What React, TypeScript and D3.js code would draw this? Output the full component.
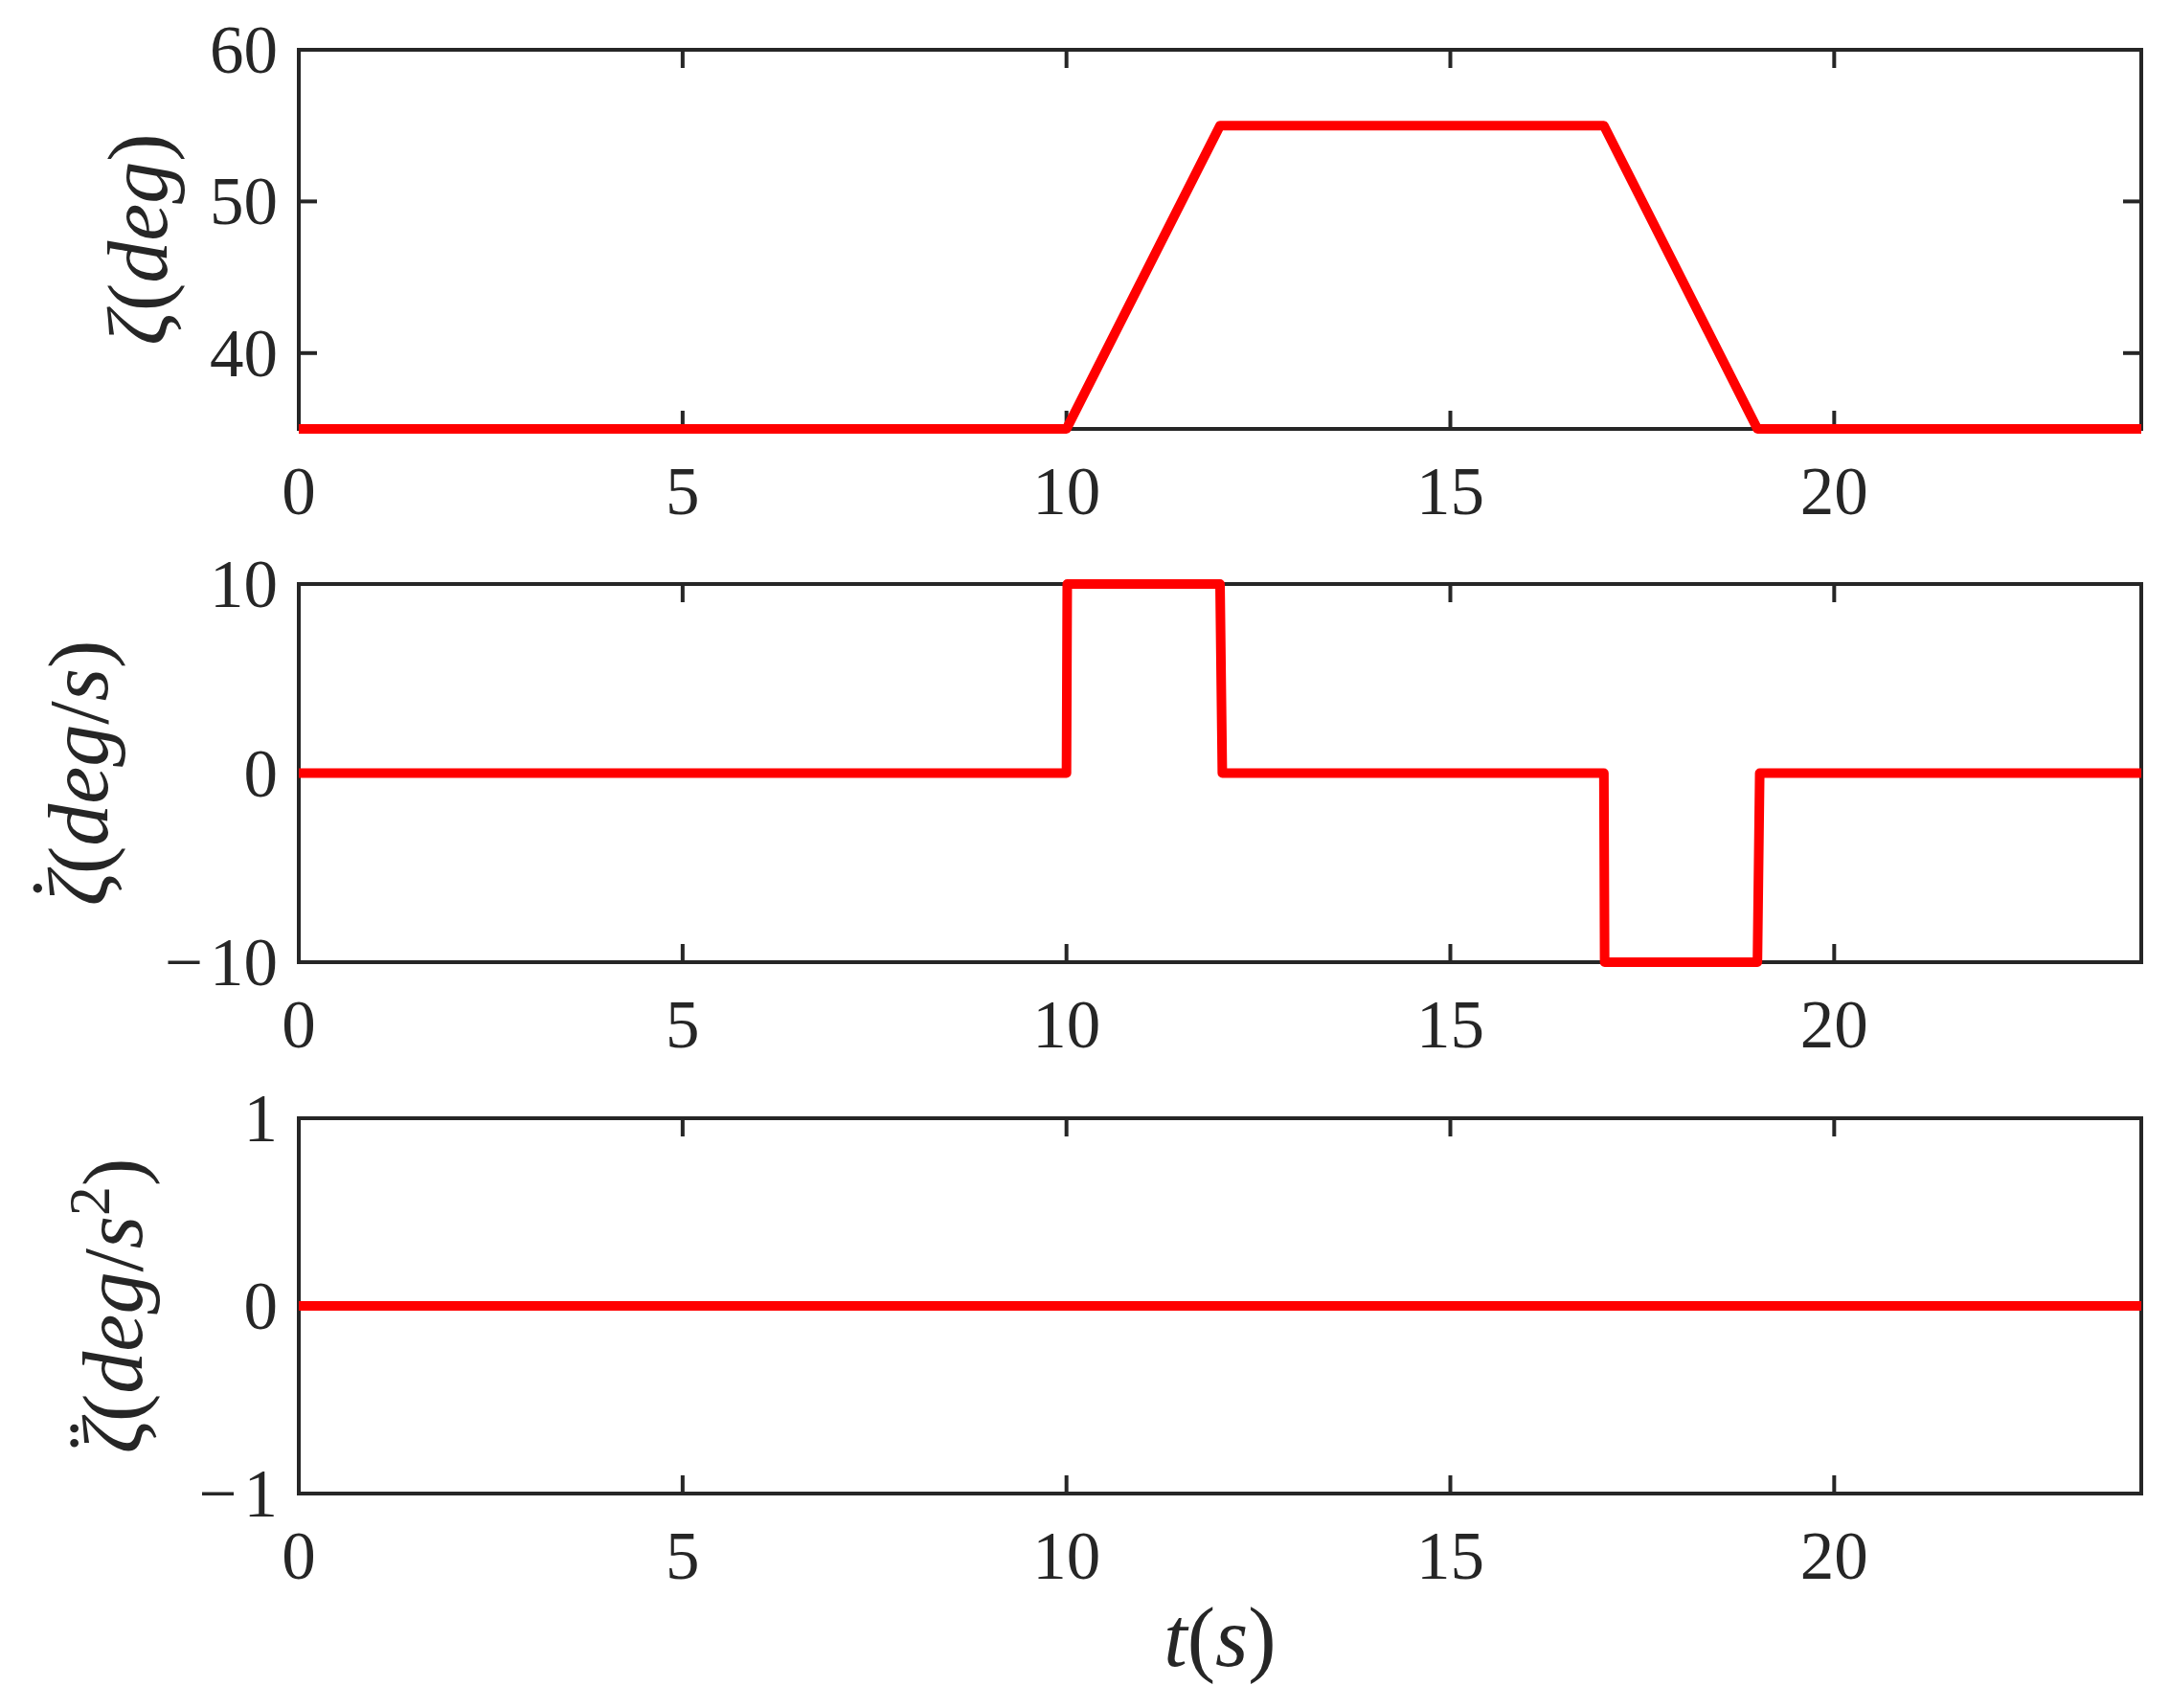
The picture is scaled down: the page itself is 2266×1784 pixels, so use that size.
import React from "react";
import * as d3 from "d3";

const W = 2266;
const H = 1784;

// Data
const timeAngle = [0, 10, 12, 17, 19, 24];
const angleValues = [35, 35, 55, 55, 35, 35];

const timeRate = [0, 10, 10.01, 12, 12.03, 17, 17.01, 19, 19.03, 24];
const rateValues = [0, 0, 10, 10, 0, 0, -10, -10, 0, 0];

const timeAcc = [0, 24];
const accValues = [0, 0];

const xTicks = [0, 5, 10, 15, 20];
const angleTicks = [40, 50, 60];
const rateTicks = [-10, 0, 10];
const accTicks = [-1, 0, 1];

const FONT = "'Liberation Serif', 'Times New Roman', serif";
const AX = "#262626";
const RED = "#ff0000";

const left = 312;
const right = 2236;
const tickFont = 71;
const labelFont = 88;
const tickLen = 19;
const axW = 4;

type PanelProps = {
  top: number;
  bottom: number;
  domain: [number, number];
  yTicks: number[];
  xs: number[];
  ys: number[];
  labelX: number;
  label: React.ReactNode;
};

const tickText = (v: number) =>
  v < 0 ? (
    <>
      <tspan letterSpacing="0.1em">{"\u2212"}</tspan>
      {String(Math.abs(v))}
    </>
  ) : (
    String(v)
  );

function Panel({ top, bottom, domain, yTicks, xs, ys, labelX, label }: PanelProps) {
  const x = d3.scaleLinear().domain([0, 24]).range([left, right]);
  const y = d3.scaleLinear().domain(domain).range([bottom, top]);
  const line = d3
    .line<number>()
    .x((_, i) => x(xs[i]))
    .y((d) => y(d));
  return (
    <g>
      <rect
        x={left}
        y={top}
        width={right - left}
        height={bottom - top}
        fill="#fff"
        stroke={AX}
        strokeWidth={axW}
      />
      {xTicks.map((t) => (
        <g key={"xt" + t}>
          <line x1={x(t)} x2={x(t)} y1={bottom} y2={bottom - tickLen} stroke={AX} strokeWidth={axW} />
          <line x1={x(t)} x2={x(t)} y1={top} y2={top + tickLen} stroke={AX} strokeWidth={axW} />
          <text
            x={x(t)}
            y={bottom + 89}
            textAnchor="middle"
            fontFamily={FONT}
            fontSize={tickFont}
            fill={AX}
          >
            {tickText(t)}
          </text>
        </g>
      ))}
      {yTicks.map((t) => (
        <g key={"yt" + t}>
          <line x1={left} x2={left + tickLen} y1={y(t)} y2={y(t)} stroke={AX} strokeWidth={axW} />
          <line x1={right} x2={right - tickLen} y1={y(t)} y2={y(t)} stroke={AX} strokeWidth={axW} />
          <text
            x={left - 22}
            y={y(t) + 24}
            textAnchor="end"
            fontFamily={FONT}
            fontSize={tickFont}
            fill={AX}
          >
            {tickText(t)}
          </text>
        </g>
      ))}
      <path
        d={line(ys) || ""}
        fill="none"
        stroke={RED}
        strokeWidth={10}
        strokeLinejoin="round"
      />
      <text
        transform={`translate(${labelX},${(top + bottom) / 2}) rotate(-90)`}
        dy="0.25em"
        textAnchor="middle"
        fontFamily={FONT}
        fontSize={labelFont}
        fill={AX}
      >
        {label}
      </text>
    </g>
  );
}

const zetaWithAccent = (accent: string) => (
  <>
    <tspan fontStyle="italic">ζ</tspan>
    <tspan dx="-0.36em" dy="-0.2em">{accent}</tspan>
    <tspan dy="0.2em">(</tspan>
  </>
);

export default function App() {
  return (
    <svg
      width={W}
      height={H}
      viewBox={`0 0 ${W} ${H}`}
      style={{ display: "block", background: "#fff", position: "absolute", left: 0, top: 0 }}
    >
      <rect x={0} y={0} width={W} height={H} fill="#fff" />
      <Panel
        top={52}
        bottom={448}
        domain={[35, 60]}
        yTicks={angleTicks}
        xs={timeAngle}
        ys={angleValues}
        labelX={152}
        label={
          <>
            <tspan fontStyle="italic">ζ</tspan>(<tspan fontStyle="italic">deg</tspan>)
          </>
        }
      />
      <Panel
        top={610}
        bottom={1005}
        domain={[-10, 10]}
        yTicks={rateTicks}
        xs={timeRate}
        ys={rateValues}
        labelX={90}
        label={
          <>
            {zetaWithAccent("\u02D9")}
            <tspan fontStyle="italic">deg</tspan>/<tspan fontStyle="italic">s</tspan>)
          </>
        }
      />
      <Panel
        top={1168}
        bottom={1560}
        domain={[-1, 1]}
        yTicks={accTicks}
        xs={timeAcc}
        ys={accValues}
        labelX={126}
        label={
          <>
            {zetaWithAccent("\u00A8")}
            <tspan fontStyle="italic">deg</tspan>/<tspan fontStyle="italic">s</tspan>
            <tspan fontSize="70%" dy="-0.55em">2</tspan>
            <tspan dy="0.385em">)</tspan>
          </>
        }
      />
      <text
        x={(left + right) / 2}
        y={1740}
        textAnchor="middle"
        fontFamily={FONT}
        fontSize={labelFont}
        fill={AX}
      >
        <tspan fontStyle="italic">t</tspan>(<tspan fontStyle="italic">s</tspan>)
      </text>
    </svg>
  );
}
